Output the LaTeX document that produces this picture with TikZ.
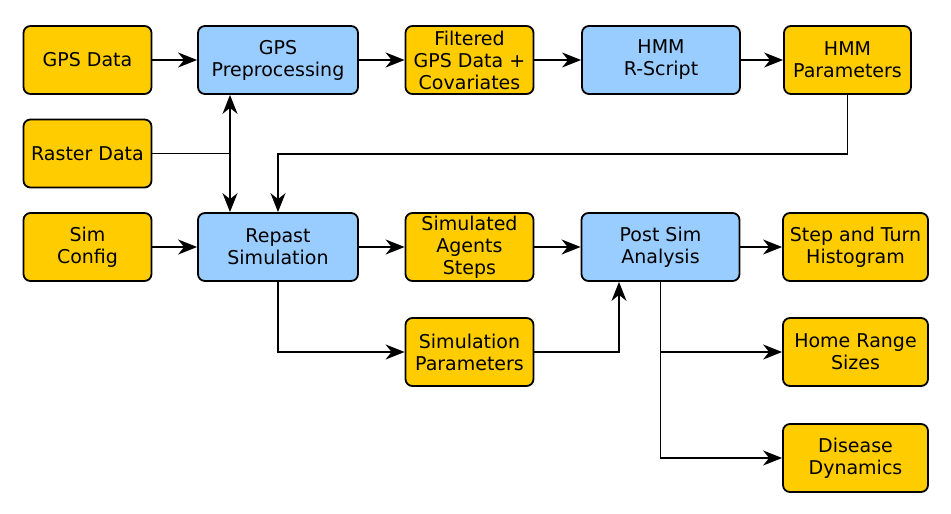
\documentclass[tikz,border=0pt]{standalone}
\usepackage{fontspec}
\setmainfont{DejaVu Sans}
\definecolor{customorange}{RGB}{255, 204, 0}
\definecolor{customblue}{RGB}{153, 204, 255}
\usetikzlibrary{arrows.meta,positioning}

\begin{document}
\begin{tikzpicture}[x=1pt, y=-1pt,
    databox/.style={rectangle, rounded corners=7pt, draw, line width=1.8pt, fill=customorange,
        minimum width=128pt, minimum height=68pt, inner sep=0pt, align=center,
        font=\fontsize{19}{22}\selectfont},
    procbox/.style={databox, fill=customblue, minimum width=160pt},
    flow/.style={-{Stealth[length=19pt, width=15pt, inset=6pt]}, line width=1.8pt}]
    \useasboundingbox (0,0) rectangle (951,514);

    % top row
    \node[databox] (gps) at (87.5,60) {GPS Data};
    \node[procbox] (prep) at (278,60) {GPS\\Preprocessing};
    \node[databox] (filt) at (469.5,60) {Filtered\\GPS Data +\\Covariates};
    \node[procbox, minimum width=158pt] (hmm) at (661,60) {HMM\\R-Script};
    \node[databox, minimum width=127pt] (hmmpar) at (847.5,60) {HMM\\Parameters};

    % inputs on the left
    \node[databox] (raster) at (87.5,153.5) {Raster Data};
    \node[databox] (simcfg) at (87.5,247) {Sim\\Config};

    % simulation row
    \node[procbox] (repast) at (278,247) {Repast\\Simulation};
    \node[databox] (steps) at (469.5,247) {Simulated\\Agents\\Steps};
    \node[procbox, minimum width=158pt] (post) at (660.5,247) {Post Sim\\Analysis};
    \node[databox, minimum width=145pt] (hist) at (855.5,247) {Step and Turn\\Histogram};

    % outputs below
    \node[databox] (simpar) at (469.5,352) {Simulation\\Parameters};
    \node[databox, minimum width=145pt] (home) at (855.5,352) {Home Range\\Sizes};
    \node[databox, minimum width=145pt] (disease) at (855.5,458) {Disease\\Dynamics};

    \coordinate (rjoin) at (230,153.5);
    \coordinate (hjoin) at (278,154);

    \draw[flow] (gps) -- (prep);
    \draw[flow] (prep) -- (filt);
    \draw[flow] (filt) -- (hmm);
    \draw[flow] (hmm) -- (hmmpar);
    \draw[flow] (hmmpar.south) |- (hjoin) -- (repast.north);
    \draw[line width=1.8pt] (raster) -- (rjoin);
    \draw[flow] (rjoin) -- (rjoin |- prep.south);
    \draw[flow] (rjoin) -- (rjoin |- repast.north);
    \draw[flow] (simcfg) -- (repast);
    \draw[flow] (repast) -- (steps);
    \draw[flow] (steps) -- (post);
    \draw[flow] (post) -- (hist);
    \draw[flow] (repast.south) |- (simpar.west);
    \draw[flow] (simpar.east) -| ([xshift=-41.5pt]post.south);
    \draw[flow] (post.south) |- (home.west);
    \draw[flow] (post.south) |- (disease.west);
\end{tikzpicture}
\end{document}
